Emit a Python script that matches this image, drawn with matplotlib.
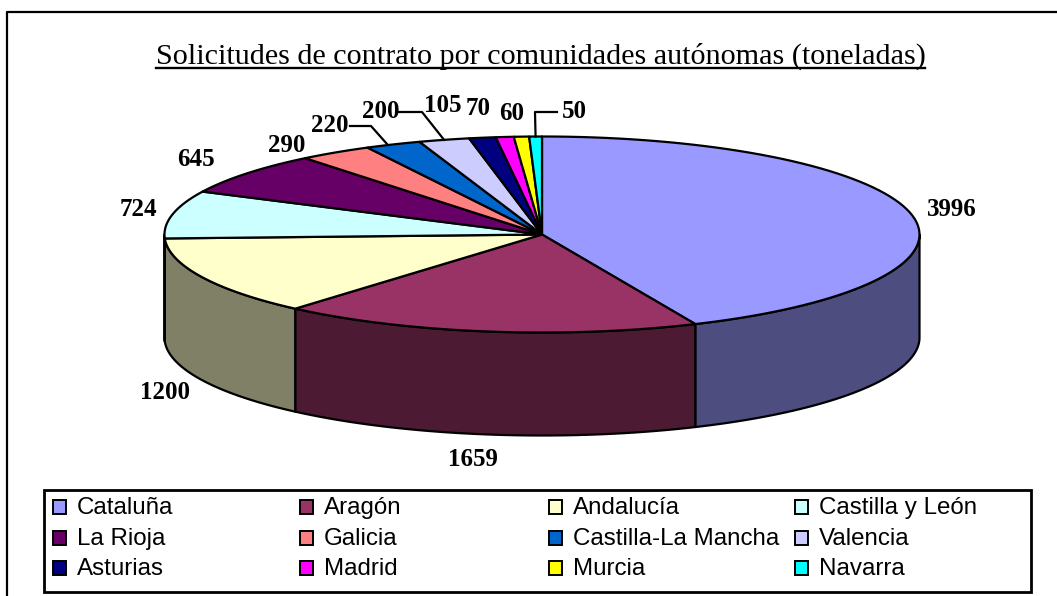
#grafico de tarta 3D: solicitudes de contrato por comunidades autonomas
import numpy as np
import matplotlib
matplotlib.use("Agg")
import matplotlib.pyplot as plt
from matplotlib.patches import Polygon, Rectangle

comunidades = ["Cataluña", "Aragón", "Andalucía", "Castilla y León",
               "La Rioja", "Galicia", "Castilla-La Mancha", "Valencia",
               "Asturias", "Madrid", "Murcia", "Navarra"]
toneladas = [3996, 1659, 1200, 724, 645, 290, 220, 200, 105, 70, 60, 50]
colores = ["#9999FF", "#993366", "#FFFFCC", "#CCFFFF", "#660066", "#FF8080",
           "#0066CC", "#CCCCFF", "#000080", "#FF00FF", "#FFFF00", "#00FFFF"]
titulo = "Solicitudes de contrato por comunidades autónomas (toneladas)"

# geometria en pixeles de la imagen
cx, cy, rx, ry, alto = 542, 234.5, 377.5, 98, 103
pos_etiquetas = [(951, 208), (472, 458), (164, 391), (137, 208), (195, 158), (286, 144),
                 (329, 124), (380, 110), (442, 104), (477, 107), (511, 112), (573, 110)]
col_x = [53, 300, 549, 795]
fila_y = [507, 538, 568]


def elipse(ang, dy=0):
    # angulo en grados, en sentido horario desde arriba
    t = np.radians(ang)
    return np.column_stack([cx + rx * np.sin(t), cy - ry * np.cos(t) + dy])


fig = plt.figure(figsize=(10.57, 5.96), dpi=100)
ax = fig.add_axes([0, 0, 1, 1])
ax.set_xlim(0, 1057)
ax.set_ylim(596, 0)
ax.axis("off")

# marco exterior, sin lado derecho ni inferior
ax.plot([7, 7, 1057], [596, 12, 12], color="black", lw=1.6)

acum = np.cumsum([0] + toneladas) / sum(toneladas) * 360

# paredes laterales
for i, color in enumerate(colores):
    a0, a1 = max(acum[i], 90), min(acum[i + 1], 270)
    if a1 <= a0:
        continue
    ang = np.linspace(a0, a1, 80)
    pts = np.vstack([elipse(ang), elipse(ang[::-1], alto)])
    rgb = np.array(matplotlib.colors.to_rgb(color)) * 0.5
    ax.add_patch(Polygon(pts, closed=True, facecolor=rgb, edgecolor="black", lw=1.6, joinstyle="round"))

# cara superior
for i, color in enumerate(colores):
    ang = np.linspace(acum[i], acum[i + 1], 80)
    pts = np.vstack([[cx, cy], elipse(ang)])
    ax.add_patch(Polygon(pts, closed=True, facecolor=color, edgecolor="black", lw=1.6, joinstyle="round"))

# etiquetas de datos
for valor, (x, y) in zip(toneladas, pos_etiquetas):
    ax.text(x + 1, y + 1.5, str(valor), ha="center", va="center", fontsize=18, fontweight="bold",
            family="Liberation Serif", color="black")

# lineas guia de las porciones pequenas
for i, x0, x1, frac in [(6, 350, 371, 0.4), (7, 399, 422, 0.5), (11, 557, 535, 0.5)]:
    y0 = pos_etiquetas[i][1] + 2
    fin = elipse(acum[i] + frac * (acum[i + 1] - acum[i]))[0]
    ax.plot([x0, x1, fin[0]], [y0, y0, fin[1]], color="black", lw=1.6)

# titulo subrayado
tit = ax.text(540.5, 56, titulo, ha="center", va="center", fontsize=21.7,
              family="Liberation Serif", color="black")
fig.canvas.draw()
caja = tit.get_window_extent().transformed(ax.transData.inverted())
ax.plot([caja.x0, caja.x1], [68, 68], color="black", lw=1.7)

# leyenda
ax.add_patch(Rectangle((44, 490), 987, 102, facecolor="white", edgecolor="black", lw=2))
for i, nombre in enumerate(comunidades):
    x = col_x[i % 4]
    y = fila_y[i // 4]
    ax.add_patch(Rectangle((x, y - 7), 13, 14, facecolor=colores[i], edgecolor="black", lw=1.4))
    ax.text(x + 24, y + 7, nombre, ha="left", va="baseline", fontsize=17.4,
            family="Liberation Sans", color="black")

fig.savefig("out.png", dpi=100)
